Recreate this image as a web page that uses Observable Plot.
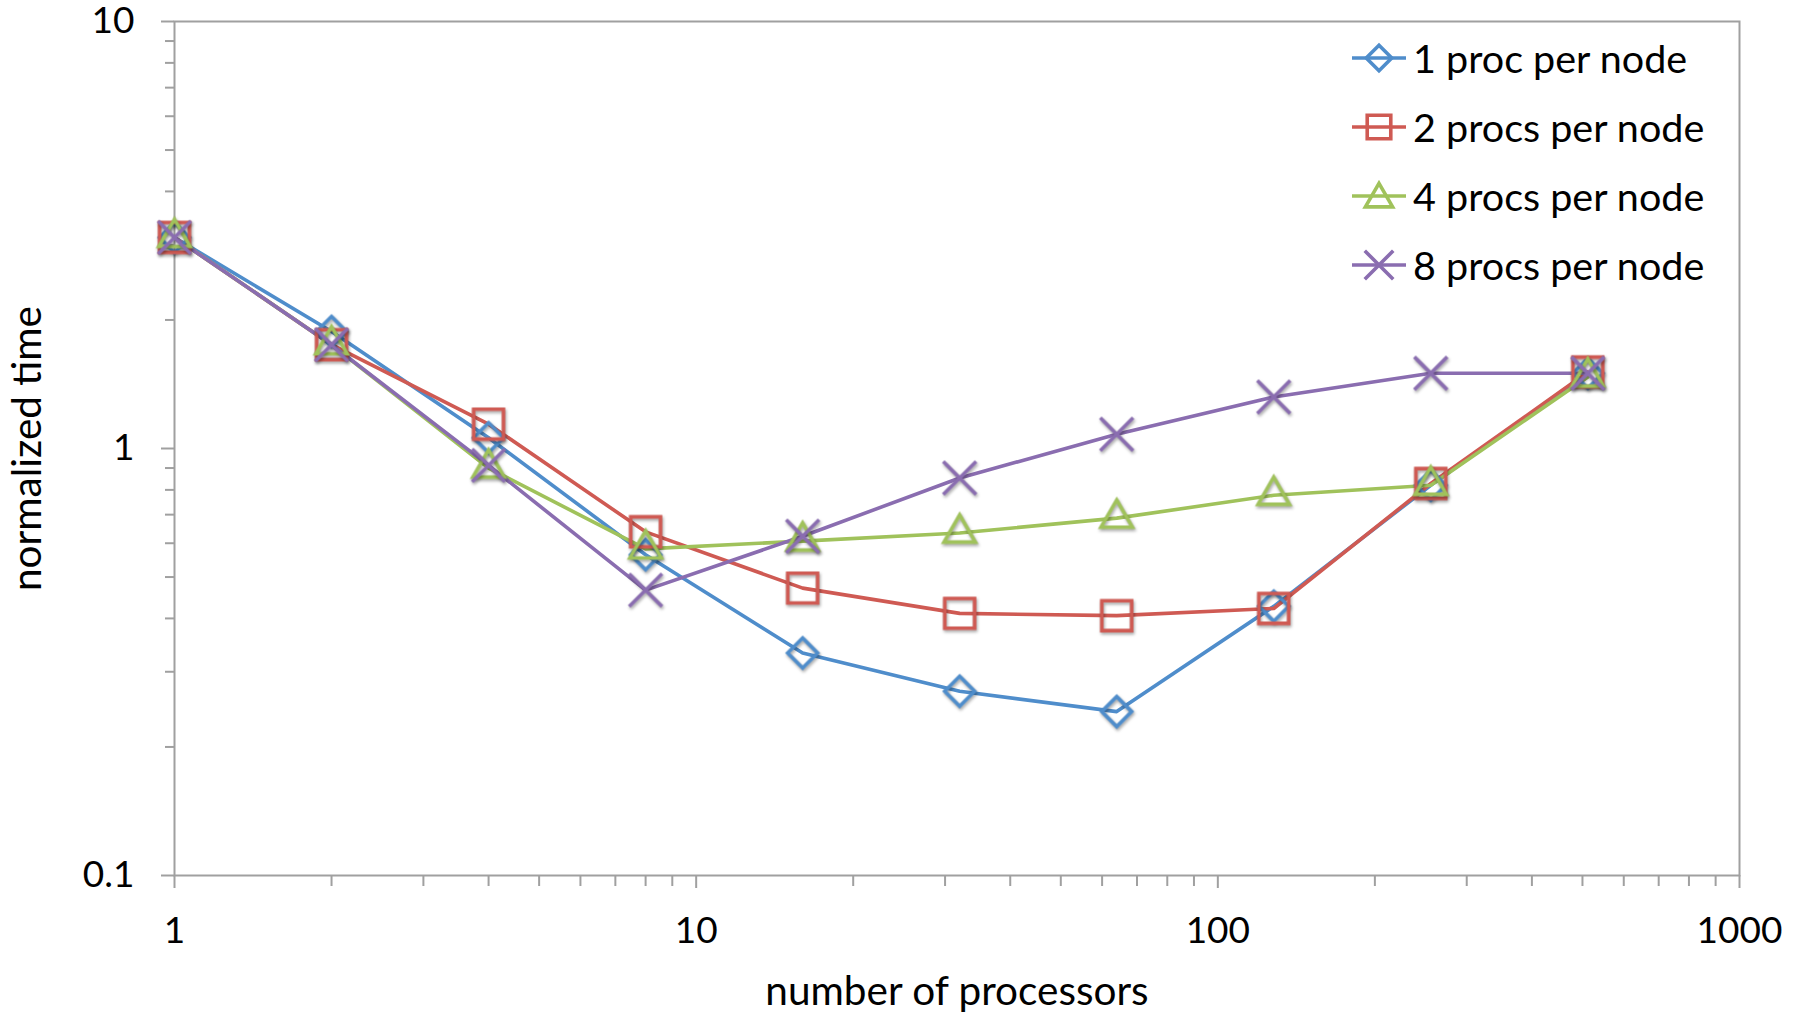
<!DOCTYPE html>
<html>
<head>
<meta charset="utf-8">
<script src="https://cdn.jsdelivr.net/npm/d3@7"></script>
<script src="https://cdn.jsdelivr.net/npm/@observablehq/plot@0.6"></script>
<style>
  body { margin: 0; background: #fff; }
  #wrap { position: relative; width: 1800px; height: 1017px; font-family: Lato, "Open Sans", sans-serif; }
  #wrap svg { overflow: visible; }
  #legend { position: absolute; left: 1350px; top: 23px; }
  .row { display: flex; align-items: center; height: 69px; font-size: 39.5px; color: #000; }
  .row svg { margin-right: 5px; }
</style>
</head>
<body>
<div id="wrap"></div>
<script>
const procs = [1, 2, 4, 8, 16, 32, 64, 128, 256, 512];
const seriesNames = ["1 proc per node", "2 procs per node", "4 procs per node", "8 procs per node"];
const one   = [3.12, 1.88, 1.06, 0.564, 0.332, 0.270, 0.242, 0.427, 0.820, 1.50];
const two   = [3.12, 1.75, 1.14, 0.638, 0.471, 0.411, 0.406, 0.422, 0.828, 1.51];
const four  = [3.12, 1.75, 0.90, 0.582, 0.607, 0.634, 0.687, 0.777, 0.820, 1.47];
const eight = [3.12, 1.75, 0.913, 0.466, 0.623, 0.853, 1.08, 1.32, 1.50, 1.50];
const yTicks = [0.1, 1, 10];
const xTicks = [1, 10, 100, 1000];

const colors = ["#4F8DCB", "#CF5A53", "#A0C25B", "#8A6DB0"];
const symbols = ["diamond2", "square2", "triangle2", "times"];
const radii = [13.5, 19, 15, 15];

const allSeries = [one, two, four, eight];
const data = [];
allSeries.forEach((vals, s) => vals.forEach((v, i) => data.push({series: seriesNames[s], s, x: procs[i], y: v})));

const minorY = [];
for (const d of [0.1, 1]) for (let k = 2; k <= 9; k++) minorY.push(+(d * k).toFixed(2));
const minorX = [];
for (const d of [1, 10, 100]) for (let k = 2; k <= 9; k++) minorX.push(d * k);

const gray = "#A0A0A0";
const marks = [
  Plot.axisY({ticks: minorY, tickSize: 9, tickFormat: () => "", stroke: gray, strokeWidth: 2, label: null}),
  Plot.axisX({ticks: minorX, tickSize: 11, tickFormat: () => "", stroke: gray, strokeWidth: 2, label: null}),
  Plot.axisY({ticks: yTicks, tickSize: 13, tickPadding: 27, tickFormat: d => String(d), stroke: gray, strokeWidth: 2,
    fontSize: 37, label: null}),
  Plot.axisX({ticks: xTicks, tickSize: 13, tickPadding: 28, tickFormat: d => String(d), stroke: gray, strokeWidth: 2,
    fontSize: 37, label: null}),
  Plot.axisY({ticks: [], tickSize: 0, fontSize: 40.5, label: "normalized time", labelArrow: "none", labelAnchor: "center", labelOffset: 162}),
  Plot.axisX({ticks: [], tickSize: 0, fontSize: 40.5, label: "number of processors", labelArrow: "none", labelAnchor: "center", labelOffset: 129}),
  Plot.frame({stroke: gray, strokeWidth: 2})
];
seriesNames.forEach((name, s) => {
  const d = data.filter(r => r.s === s);
  marks.push(Plot.line(d, {x: "x", y: "y", stroke: colors[s], strokeWidth: 3.6}));
});
seriesNames.forEach((name, s) => {
  const d = data.filter(r => r.s === s);
  marks.push(Plot.dot(d, {x: "x", y: "y", symbol: () => symbols[s], r: radii[s], stroke: colors[s], strokeWidth: 3.6, fill: "none",
    imageFilter: "drop-shadow(1px 2px 1.5px rgba(0,0,0,0.35))"}));
});

const chart = Plot.plot({
  width: 1800,
  height: 1017,
  marginLeft: 174,
  marginRight: 61,
  marginTop: 21,
  marginBottom: 142,
  style: {fontFamily: "Lato, 'Open Sans', sans-serif", fontSize: "37px", color: "#000", background: "#fff", overflow: "visible"},
  x: {type: "log", domain: [1, 1000]},
  y: {type: "log", domain: [0.1, 10]},
  symbol: {type: "identity"},
  marks
});
const wrap = document.getElementById("wrap");
wrap.appendChild(chart);

// legend overlay
const legend = document.createElement("div");
legend.id = "legend";
seriesNames.forEach((name, s) => {
  const row = document.createElement("div");
  row.className = "row";
  let symType;
  if (symbols[s] === "diamond2") symType = d3.symbolDiamond2;
  else if (symbols[s] === "square2") symType = d3.symbolSquare2;
  else if (symbols[s] === "triangle2") symType = d3.symbolTriangle2;
  else symType = d3.symbolTimes;
  const lr = [11.5, 15, 13, 13][s];
  const path = d3.symbol(symType, Math.PI * lr * lr)();
  row.innerHTML = `<svg width="58" height="44" viewBox="0 0 58 44">
    <line x1="2" y1="22" x2="56" y2="22" stroke="${colors[s]}" stroke-width="3.6"/>
    <path d="${path}" transform="translate(29,${s === 2 ? 25 : 22})" fill="none" stroke="${colors[s]}" stroke-width="3.6"/>
  </svg><span>${name}</span>`;
  legend.appendChild(row);
});
wrap.appendChild(legend);
</script>
</body>
</html>
